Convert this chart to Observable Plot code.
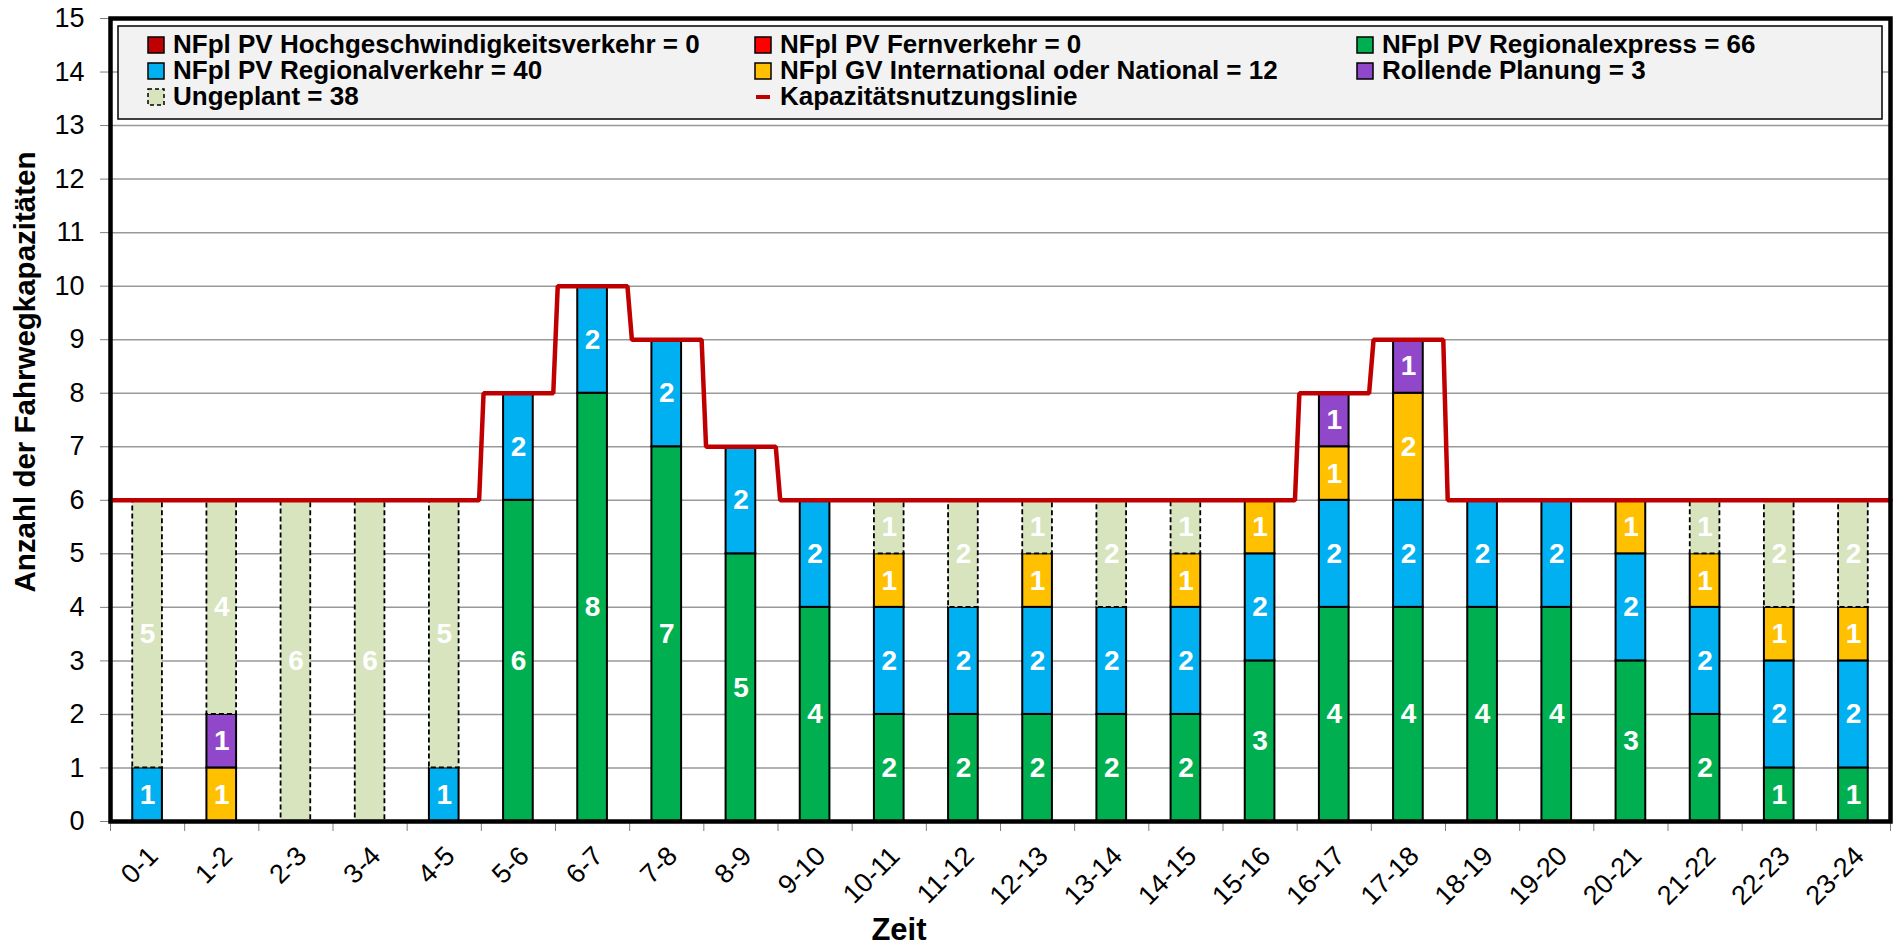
<!DOCTYPE html>
<html>
<head>
<meta charset="utf-8">
<script src="https://cdn.jsdelivr.net/npm/d3@7"></script>
<script src="https://cdn.jsdelivr.net/npm/@observablehq/plot@0.6"></script>
<style>
  html, body { margin: 0; padding: 0; background: #fff; }
  #chart { position: relative; width: 1895px; height: 949px; }
</style>
</head>
<body>
<div id="chart"></div>
<script>
// ---- data ----
const hours = ["0-1","1-2","2-3","3-4","4-5","5-6","6-7","7-8","8-9","9-10","10-11","11-12",
  "12-13","13-14","14-15","15-16","16-17","17-18","18-19","19-20","20-21","21-22","22-23","23-24"];

const hochgeschwindigkeit = [0,0,0,0,0,0,0,0,0,0,0,0,0,0,0,0,0,0,0,0,0,0,0,0];
const fernverkehr         = [0,0,0,0,0,0,0,0,0,0,0,0,0,0,0,0,0,0,0,0,0,0,0,0];
const regionalexpress     = [0,0,0,0,0,6,8,7,5,4,2,2,2,2,2,3,4,4,4,4,3,2,1,1];
const regionalverkehr     = [1,0,0,0,1,2,2,2,2,2,2,2,2,2,2,2,2,2,2,2,2,2,2,2];
const gvInternational     = [0,1,0,0,0,0,0,0,0,0,1,0,1,0,1,1,1,2,0,0,1,1,1,1];
const rollendePlanung     = [0,1,0,0,0,0,0,0,0,0,0,0,0,0,0,0,1,1,0,0,0,0,0,0];
const ungeplant           = [5,4,6,6,5,0,0,0,0,0,1,2,1,2,1,0,0,0,0,0,0,1,2,2];
const kapazitaet          = [6,6,6,6,6,8,10,9,7,6,6,6,6,6,6,6,8,9,6,6,6,6,6,6];

const seriesNames = ["NFpl PV Hochgeschwindigkeitsverkehr","NFpl PV Fernverkehr","NFpl PV Regionalexpress",
  "NFpl PV Regionalverkehr","NFpl GV International oder National","Rollende Planung","Ungeplant"];
const seriesValues = [hochgeschwindigkeit, fernverkehr, regionalexpress, regionalverkehr, gvInternational, rollendePlanung, ungeplant];
const seriesColors = ["#C00000","#FF0000","#00B050","#00B0F0","#FFC000","#9147C9","#D7E4BD"];
const lineName = "Kapazitätsnutzungslinie";
const lineColor = "#C00000";

// ---- build stacked table ----
const stacked = [];
hours.forEach((h, i) => {
  let base = 0;
  seriesNames.forEach((s, k) => {
    const v = seriesValues[k][i];
    if (v > 0) {
      stacked.push({hour: i, label: h, series: s, k, value: v, y1: base, y2: base + v});
      base += v;
    }
  });
});
const planned = stacked.filter(d => d.series !== "Ungeplant");
const unplanned = stacked.filter(d => d.series === "Ungeplant");

const linePts = [];
kapazitaet.forEach((v, i) => {
  linePts.push({x: i === 0 ? i : i + 0.03, y: v});
  linePts.push({x: i === hours.length - 1 ? i + 1 : i + 0.97, y: v});
});

const FONT = "'Liberation Sans', Arial, sans-serif";

const chart = Plot.plot({
  width: 1895, height: 949,
  marginLeft: 110, marginRight: 5, marginTop: 18, marginBottom: 128,
  style: {fontFamily: FONT, background: "white", color: "black"},
  x: {domain: [0, hours.length], axis: null},
  y: {domain: [0, 15], axis: null},
  marks: [
    Plot.gridY({ticks: 15, stroke: "#999999", strokeOpacity: 1, strokeWidth: 1.5}),
    Plot.axisY({ticks: 15, tickSize: 10, tickPadding: 16, fontSize: 27, stroke: "#7f7f7f", fill: "black", label: null}),
    Plot.axisX({ticks: d3.range(hours.length + 1), tickSize: 10, tickFormat: () => "", stroke: "#7f7f7f", label: null}),
    Plot.axisX({ticks: hours.map((_, i) => i + 0.5), tickFormat: d => hours[Math.floor(d)], tickRotate: -45,
      tickSize: 0, tickPadding: 30, dx: 6, fontSize: 27, fill: "black", label: null}),
    Plot.rect(planned, {x1: d => d.hour + 0.3, x2: d => d.hour + 0.7, y1: "y1", y2: "y2",
      fill: d => seriesColors[d.k], stroke: "black", strokeWidth: 2}),
    Plot.rect(unplanned, {x1: d => d.hour + 0.3, x2: d => d.hour + 0.7, y1: "y1", y2: "y2",
      fill: d => seriesColors[d.k], stroke: "black", strokeWidth: 1.8, strokeDasharray: "5,3"}),
    Plot.text(stacked, {x: d => d.hour + 0.5, y: d => (d.y1 + d.y2) / 2, text: d => String(d.value),
      fill: "white", fontSize: 28, fontWeight: "bold"}),
    Plot.line(linePts, {x: "x", y: "y", stroke: lineColor, strokeWidth: 4.5, strokeLinejoin: "miter", curve: "linear"}),
    Plot.frame({stroke: "black", strokeWidth: 4.5})
  ]
});

document.getElementById("chart").appendChild(chart);

// ---- titles and legend ----
const svg = d3.select(chart);
svg.append("text")
  .attr("transform", "translate(35,372) rotate(-90)")
  .attr("text-anchor", "middle")
  .attr("font-family", FONT).attr("font-weight", "bold").attr("font-size", 29.5)
  .text("Anzahl der Fahrwegkapazitäten");
svg.append("text")
  .attr("x", 899).attr("y", 940)
  .attr("text-anchor", "middle")
  .attr("font-family", FONT).attr("font-weight", "bold").attr("font-size", 31)
  .text("Zeit");

const lg = svg.append("g");
lg.append("rect").attr("x", 118).attr("y", 26).attr("width", 1764).attr("height", 93)
  .attr("fill", "#f2f2f2").attr("stroke", "black").attr("stroke-width", 1.5);

const colX = [148, 755, 1357];
const rowBase = [53, 79, 105];
const legendItems = seriesNames.map((s, k) => ({
  text: `${s} = ${d3.sum(seriesValues[k])}`, color: seriesColors[k], dashed: s === "Ungeplant", line: false
}));
legendItems.push({text: lineName, color: lineColor, line: true});
legendItems.forEach((it, j) => {
  const cx = colX[j % 3], base = rowBase[Math.floor(j / 3)];
  const mid = base - 8;
  if (it.line) {
    lg.append("rect").attr("x", cx + 1).attr("y", mid - 2).attr("width", 14).attr("height", 4).attr("fill", it.color);
  } else {
    lg.append("rect").attr("x", cx).attr("y", mid - 8).attr("width", 16).attr("height", 16)
      .attr("fill", it.color).attr("stroke", "black").attr("stroke-width", 1.5)
      .attr("stroke-dasharray", it.dashed ? "4,3" : null);
  }
  lg.append("text").attr("x", cx + 25).attr("y", base)
    .attr("text-anchor", "start")
    .attr("font-family", FONT).attr("font-weight", "bold").attr("font-size", 26)
    .text(it.text);
});
</script>
</body>
</html>
